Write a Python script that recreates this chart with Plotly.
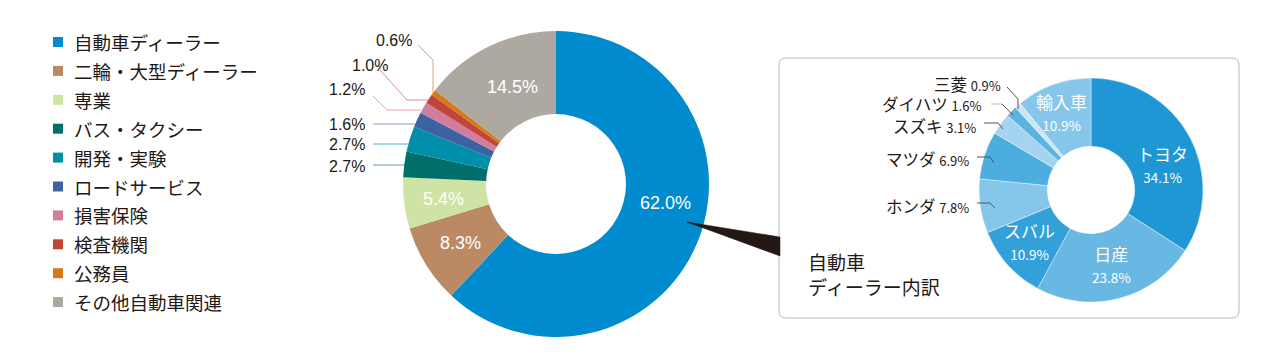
import plotly.graph_objects as go

W, H = 1280, 354

# ---------------- data ----------------
main_labels = ["自動車ディーラー", "二輪・大型ディーラー", "専業", "バス・タクシー", "開発・実験",
               "ロードサービス", "損害保険", "検査機関", "公務員", "その他自動車関連"]
main_values = [62.0, 8.3, 5.4, 2.7, 2.7, 1.6, 1.2, 1.0, 0.6, 14.5]
main_colors = ["#008BCF", "#BB8A65", "#CEE3A4", "#006F69", "#008FAA",
               "#3D62A3", "#D07E9E", "#C1453A", "#D47A1A", "#ADA9A1"]

dealer_labels = ["トヨタ", "日産", "スバル", "ホンダ", "マツダ", "スズキ", "ダイハツ", "三菱", "輸入車"]
dealer_values = [34.1, 23.8, 10.9, 7.8, 6.9, 3.1, 1.6, 0.9, 10.9]
dealer_colors = ["#1E97D4", "#68B8E3", "#32A1DA", "#86C6EA", "#4BAEDF",
                 "#A4D4F0", "#5CB3E2", "#C8E6F6", "#86C6EA"]

panel_title = "自動車<br>ディーラー内訳"

TXT = "#231815"
JP = "Noto Sans CJK JP"
NUM = "Liberation Sans, Arial, sans-serif"
NARROW = "Liberation Sans Narrow, Noto Sans CJK JP"


def px(x):
    return x / W


def py(y):
    return 1 - y / H


fig = go.Figure()

fig.add_trace(go.Pie(
    labels=main_labels, values=main_values, sort=False, direction="clockwise", rotation=0,
    hole=0.457, marker=dict(colors=main_colors, line=dict(width=0)),
    textinfo="none", hoverinfo="label+percent", showlegend=False,
    domain=dict(x=[px(403), px(709)], y=[py(337), py(31)]),
))

fig.add_trace(go.Pie(
    labels=dealer_labels, values=dealer_values, sort=False, direction="clockwise", rotation=0,
    hole=0.39, marker=dict(colors=dealer_colors, line=dict(width=0.6, color="rgba(255,255,255,0.7)")),
    textinfo="none", hoverinfo="label+percent", showlegend=False,
    domain=dict(x=[px(979), px(1203)], y=[py(302), py(78)]),
))

shapes = []
annotations = []


def pct(v):
    return f"{v:.1f}%"


# ---------- main chart labels ----------
inside_main = {0: (665, 203), 1: (460, 243), 2: (443, 199), 9: (512, 87)}
for i, (x, y) in inside_main.items():
    annotations.append(dict(x=px(x), y=py(y), xref="paper", yref="paper", text=pct(main_values[i]),
                            showarrow=False, xanchor="center", yanchor="middle",
                            font=dict(family=NUM, size=18, color="white")))

outside_main = {8: (414, 41), 7: (390, 65), 6: (367, 89), 5: (367, 124), 4: (367, 145), 3: (367, 166)}
for i, (x, y) in outside_main.items():
    annotations.append(dict(x=px(x), y=py(y), xref="paper", yref="paper", text=pct(main_values[i]),
                            showarrow=False, xanchor="right", yanchor="middle",
                            font=dict(family=NUM, size=16, color=TXT)))

leader_main = [
    ([(418, 45), (433, 60), (433, 93)], "#E2A467"),
    ([(380, 70), (407, 100), (428, 100)], "#DE8F86"),
    ([(373, 96), (387, 110), (421, 110)], "#E4A2BA"),
    ([(373, 124), (415, 124)], "#8C9DCB"),
    ([(373, 144), (408, 144)], "#4FB6CB"),
    ([(373, 165), (404, 165)], "#5C9F9A"),
]


def path_of(pts, close=False):
    s = "M " + " L ".join(f"{px(x)},{py(y)}" for x, y in pts)
    return s + (" Z" if close else "")


for pts, col in leader_main:
    shapes.append(dict(type="path", xref="paper", yref="paper", path=path_of(pts),
                       line=dict(color=col, width=1)))

# ---------- pointer & panel ----------
shapes.append(dict(type="path", xref="paper", yref="paper",
                   path=path_of([(687, 222), (780, 237), (780, 256)], close=True),
                   fillcolor=TXT, line=dict(color=TXT, width=0.5)))

x0, y0, x1, y1, r = 779, 58, 1239, 318, 7
rx, ry = r / W, r / H
box = (f"M {px(x0)+rx},{py(y0)} L {px(x1)-rx},{py(y0)} Q {px(x1)},{py(y0)} {px(x1)},{py(y0)-ry} "
       f"L {px(x1)},{py(y1)+ry} Q {px(x1)},{py(y1)} {px(x1)-rx},{py(y1)} "
       f"L {px(x0)+rx},{py(y1)} Q {px(x0)},{py(y1)} {px(x0)},{py(y1)+ry} "
       f"L {px(x0)},{py(y0)-ry} Q {px(x0)},{py(y0)} {px(x0)+rx},{py(y0)} Z")
shapes.append(dict(type="path", xref="paper", yref="paper", path=box,
                   line=dict(color="#B8B8B8", width=1), layer="below"))

annotations.append(dict(x=px(806), y=py(274), xref="paper", yref="paper", text=panel_title,
                        showarrow=False, xanchor="left", yanchor="middle", align="left",
                        font=dict(family=JP, size=19, color=TXT)))

# ---------- dealer chart labels ----------
inside_dealer = {0: (1162, 164), 1: (1111, 264), 2: (1029, 241), 8: (1061, 112)}
for i, (x, y) in inside_dealer.items():
    annotations.append(dict(x=px(x), y=py(y), xref="paper", yref="paper",
                            text=f"{dealer_labels[i]}<br><span style='font-size:13.5px;font-family:{NARROW}'>{pct(dealer_values[i])}</span>",
                            showarrow=False, xanchor="center", yanchor="middle", align="center",
                            font=dict(family=JP, size=17, color="white")))

outside_dealer = {7: (1002, 84), 6: (982, 104), 5: (977, 126), 4: (970, 159), 3: (970, 206)}
for i, (x, y) in outside_dealer.items():
    annotations.append(dict(x=px(x), y=py(y), xref="paper", yref="paper",
                            text=f"{dealer_labels[i]} <span style='font-size:13px;font-family:{NARROW}'>{pct(dealer_values[i])}</span>",
                            showarrow=False, xanchor="right", yanchor="middle", borderpad=0,
                            font=dict(family=JP, size=16.5, color=TXT)))

leader_dealer = [
    ([(1007, 87), (1018, 99), (1018, 109)], "#555555"),
    ([(991, 104), (1002, 104)], "#BBBBBB"),
    ([(1002, 104), (1013, 115)], "#555555"),
    ([(984, 123), (998, 123), (1003, 129)], "#555555"),
    ([(977, 157), (990, 157), (994, 163)], "#555555"),
    ([(977, 203), (990, 203), (995, 208)], "#555555"),
]
for pts, col in leader_dealer:
    shapes.append(dict(type="path", xref="paper", yref="paper", path=path_of(pts),
                       line=dict(color=col, width=1)))

# ---------- legend ----------
step = 28.9
for i, (lab, col) in enumerate(zip(main_labels, main_colors)):
    cy = 42 + i * step
    shapes.append(dict(type="rect", xref="paper", yref="paper",
                       x0=px(53), x1=px(63), y0=py(cy - 5), y1=py(cy + 5),
                       fillcolor=col, line=dict(width=0)))
    annotations.append(dict(x=px(72), y=py(cy), xref="paper", yref="paper", text=lab,
                            showarrow=False, xanchor="left", yanchor="middle",
                            font=dict(family=JP, size=18.5, color=TXT)))

fig.update_layout(
    width=W, height=H, margin=dict(l=0, r=0, t=0, b=0),
    paper_bgcolor="white", plot_bgcolor="white",
    shapes=shapes, annotations=annotations, showlegend=False,
)

fig.write_html("out.html")
